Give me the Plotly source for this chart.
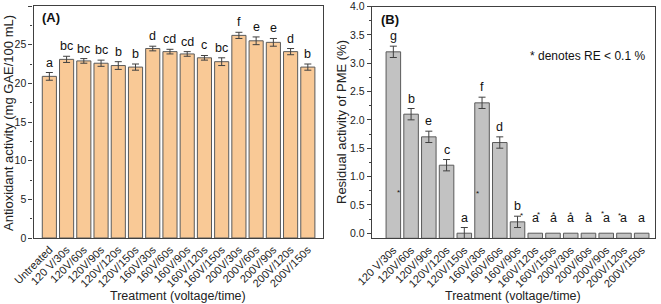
import plotly.graph_objects as go

# ---------------- data ----------------
treat_a = ["Untreated", "120 V/30s", "120V/60s", "120V/90s", "120V/120s", "120V/150s",
           "160V/30s", "160V/60s", "160V/90s", "160V/120s", "160V/150s",
           "200V/30s", "200V/60s", "200V/90s", "200V/120s", "200V/150s"]
antiox = [20.9, 23.1, 22.9, 22.6, 22.3, 22.1, 24.5, 24.1, 23.8, 23.3, 22.8, 26.2, 25.5, 25.3, 24.1, 22.1]
antiox_err = [0.5, 0.4, 0.3, 0.4, 0.5, 0.4, 0.3, 0.3, 0.3, 0.3, 0.5, 0.4, 0.5, 0.5, 0.4, 0.4]
letters_a = ["a", "bc", "bc", "bc", "b", "b", "d", "cd", "cd", "c", "bc", "f", "e", "e", "d", "b"]

treat_b = treat_a[1:]
pme = [3.2, 2.1, 1.7, 1.2, 0.0, 2.3, 1.6, 0.2, 0.0, 0.0, 0.0, 0.0, 0.0, 0.0, 0.0]
pme_err = [0.1, 0.1, 0.1, 0.1, 0.1, 0.1, 0.1, 0.1, 0, 0, 0, 0, 0, 0, 0]
letters_b = ["g", "b", "e", "c", "a", "f", "d", "b", "a", "a", "a", "a", "a", "a", "a"]
star_y = [0.75, None, None, None, None, 0.73, None, 0.34, 0.36, 0.36, 0.36, 0.36, 0.38, 0.35, None]
star_dx = [5, 0, 0, 0, 0, -5, 0, 3.5, 3, 0, 0, -1, -4, -4.5, 0]

# ---------------- styling ----------------
W, H = 661, 304
FONT = "Liberation Sans, Arial, sans-serif"
ORANGE = "#F9C996"
GRAY = "#C2C2C2"
EDGE = "#5A5A5A"
AX = "#404040"
B_YMIN = -0.09

def px_x(a, b):
    return [a / W, b / W]

def px_y(top, bottom):
    return [1 - bottom / H, 1 - top / H]

fig = go.Figure()

# Panel A
fig.add_trace(go.Bar(
    x=list(range(len(treat_a))), y=antiox, width=0.82,
    marker=dict(color=ORANGE, line=dict(color=EDGE, width=1)),
    error_y=dict(type="data", array=antiox_err, color=AX, thickness=1, width=3.5),
    xaxis="x", yaxis="y", showlegend=False))

# Panel B bars start from the bottom of the axis (Origin style)
fig.add_trace(go.Bar(
    x=list(range(len(treat_b))), y=[v - B_YMIN for v in pme], base=B_YMIN, width=0.82,
    marker=dict(color=GRAY, line=dict(color=EDGE, width=1)),
    xaxis="x2", yaxis="y2", showlegend=False, cliponaxis=True))
fig.add_trace(go.Scatter(
    x=[i for i, e in enumerate(pme_err) if e > 0],
    y=[pme[i] for i, e in enumerate(pme_err) if e > 0],
    mode="markers", marker=dict(size=0.1, color="rgba(0,0,0,0)"),
    error_y=dict(type="data", array=[e for e in pme_err if e > 0], color=AX, thickness=1, width=3.5),
    xaxis="x2", yaxis="y2", showlegend=False, hoverinfo="skip", cliponaxis=True))

annotations = []
for i, (v, e, t) in enumerate(zip(antiox, antiox_err, letters_a)):
    annotations.append(dict(x=i, y=v + e, xref="x", yref="y", text=t, showarrow=False,
                            yanchor="bottom", yshift=1, font=dict(family=FONT, size=12.5, color="#111")))
for i, (v, e, t) in enumerate(zip(pme, pme_err, letters_b)):
    top = v + (e if e > 0 else 0.1)
    annotations.append(dict(x=i, y=top, xref="x2", yref="y2", text=t, showarrow=False,
                            yanchor="bottom", yshift=1, font=dict(family=FONT, size=12.5, color="#111")))
for i, (sy, dx) in enumerate(zip(star_y, star_dx)):
    if sy is None:
        continue
    annotations.append(dict(x=i, y=sy, xref="x2", yref="y2", text="*", showarrow=False,
                            xshift=dx, yshift=-2, font=dict(family=FONT, size=8, color="#111")))

annotations += [
    dict(x=40 / W, y=1 - 17 / H, xref="paper", yref="paper", text="<b>(A)</b>", showarrow=False,
         xanchor="left", yanchor="middle", font=dict(family=FONT, size=13, color="#111")),
    dict(x=379 / W, y=1 - 19 / H, xref="paper", yref="paper", text="<b>(B)</b>", showarrow=False,
         xanchor="left", yanchor="middle", font=dict(family=FONT, size=13, color="#111")),
    dict(x=528 / W, y=1 - 56 / H, xref="paper", yref="paper", text="* denotes RE &lt; 0.1 %", showarrow=False,
         xanchor="left", yanchor="middle", font=dict(family=FONT, size=12, color="#111")),
    dict(x=(33.5 + 323) / 2 / W, y=1 - 296 / H, xref="paper", yref="paper", text="Treatment (voltage/time)",
         showarrow=False, xanchor="center", yanchor="middle", font=dict(family=FONT, size=12.5, color="#222")),
    dict(x=(371.7 + 655) / 2 / W, y=1 - 296 / H, xref="paper", yref="paper", text="Treatment (voltage/time)",
         showarrow=False, xanchor="center", yanchor="middle", font=dict(family=FONT, size=12.5, color="#222")),
    dict(x=9 / W, y=1 - 123 / H, xref="paper", yref="paper", text="Antioxidant activity (mg GAE/100 mL)",
         showarrow=False, textangle=-90, xanchor="center", yanchor="middle",
         font=dict(family=FONT, size=13, color="#222")),
    dict(x=341 / W, y=1 - 122 / H, xref="paper", yref="paper", text="Residual activity of PME (%)",
         showarrow=False, textangle=-90, xanchor="center", yanchor="middle",
         font=dict(family=FONT, size=13, color="#222")),
]

common_x = dict(showgrid=False, zeroline=False, showline=True, linecolor=AX, linewidth=1.2,
                mirror=True, ticks="", tickangle=-45, tickmode="array", automargin=False,
                tickfont=dict(family=FONT, size=11, color="#222"))
common_y = dict(showgrid=False, zeroline=False, showline=True, linecolor=AX, linewidth=1.2,
                mirror=True, ticks="outside", ticklen=4, tickcolor=AX, automargin=False,
                tickfont=dict(family=FONT, size=10.5, color="#222"))

fig.update_layout(
    width=W, height=H, margin=dict(l=0, r=0, t=0, b=0, autoexpand=False),
    paper_bgcolor="white", plot_bgcolor="white",
    xaxis=dict(common_x, domain=px_x(33.5, 323), range=[-0.92, 15.88],
               tickvals=list(range(len(treat_a))), ticktext=treat_a, anchor="y"),
    yaxis=dict(common_y, domain=px_y(6, 238), range=[0, 30], tick0=0, dtick=5,
               minor=dict(ticks="outside", ticklen=2, tickcolor=AX, dtick=2.5),
               anchor="x"),
    xaxis2=dict(common_x, domain=px_x(371.7, 655), range=[-1.22, 14.75],
                tickvals=list(range(len(treat_b))), ticktext=treat_b, anchor="y2"),
    yaxis2=dict(common_y, domain=px_y(6.5, 238.3), range=[B_YMIN, 4.0], tick0=0, dtick=0.5,
                tickformat=".1f",
                minor=dict(ticks="outside", ticklen=2, tickcolor=AX, dtick=0.25),
                anchor="x2"),
    annotations=annotations,
)

fig.write_html("out.html", config={"displayModeBar": False},
               post_script="document.body.style.margin='0';document.body.style.padding='0';")
